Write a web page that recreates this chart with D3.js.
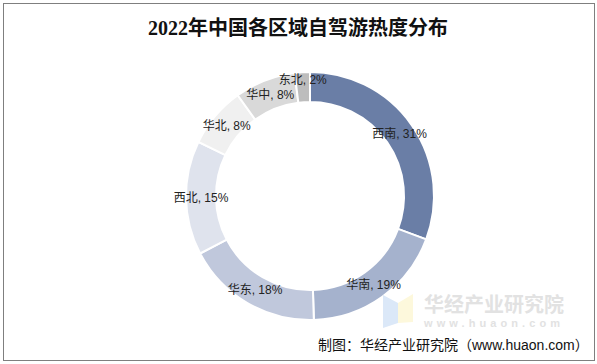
<!DOCTYPE html>
<html>
<head>
<meta charset="utf-8">
<script src="https://cdnjs.cloudflare.com/ajax/libs/d3/7.8.5/d3.min.js"></script>
<style>
html, body { margin: 0; padding: 0; background: #fff; }
svg { display: block; }
text { font-family: "Liberation Sans", "Noto Sans CJK SC", sans-serif; }
</style>
</head>
<body>
<svg id="chart"></svg>
<script>
const regions = ["西南", "华南", "华东", "西北", "华北", "华中", "东北"];
const shares = [31, 19, 18, 15, 8, 8, 2];
const colors = ["#6a7ea6", "#a5b2cd", "#c0c8dc", "#dfe3ed", "#f0f0f0", "#d9d9d9", "#bdbdbd"];

const width = 597;
const height = 364;
const cx = 310;
const cy = 196;

const svg = d3.select("svg#chart")
    .attr("width", width)
    .attr("height", height);

svg.append("rect")
    .attr("x", 3.5)
    .attr("y", 3.5)
    .attr("width", 591)
    .attr("height", 357)
    .style("fill", "#fff")
    .style("stroke", "#7f7f7f")
    .style("stroke-width", 1);

svg.append("text")
    .attr("x", 298)
    .attr("y", 35)
    .attr("text-anchor", "middle")
    .style("font-family", '"Liberation Serif", "Noto Sans CJK SC", serif')
    .style("font-size", "20px")
    .style("font-weight", "bold")
    .style("fill", "#111")
    .text("2022年中国各区域自驾游热度分布");

const pie = d3.pie().sort(null).value(d => d.value);
const arc = d3.arc().innerRadius(94).outerRadius(124);
const labelArc = d3.arc().innerRadius(109).outerRadius(109);
// the thin last slice has its label pushed outward so it clears its neighbour
const outerLabelArc = d3.arc().innerRadius(116).outerRadius(116);

const slices = pie(regions.map((name, i) => ({ name: name, value: shares[i] })));
const labelPos = d => (d.value < 5 ? outerLabelArc : labelArc).centroid(d);

const g = svg.append("g").attr("transform", `translate(${cx},${cy})`);

g.selectAll("path")
    .data(slices)
    .join("path")
    .attr("d", arc)
    .style("fill", (d, i) => colors[i])
    .style("stroke", "#fff")
    .style("stroke-width", 2);

g.selectAll("text")
    .data(slices)
    .join("text")
    .attr("x", d => labelPos(d)[0])
    .attr("y", d => labelPos(d)[1])
    .attr("dy", "0.35em")
    .attr("text-anchor", "middle")
    .style("font-size", "12px")
    .style("fill", "#222")
    .text(d => `${d.data.name}, ${d.data.value}%`);

// watermark
const mark = svg.append("g");
mark.append("path")
    .attr("d", d3.line()([[383, 295], [398, 303], [398, 323], [383, 328]]))
    .style("fill", "#dbe8f8");
mark.append("path")
    .attr("d", d3.line()([[398, 303], [413, 294], [413, 322], [398, 323]]))
    .style("fill", "#fdf8dc");
mark.append("text")
    .attr("x", 424)
    .attr("y", 312)
    .style("font-size", "20px")
    .style("font-weight", "bold")
    .style("fill", "#e2e2e2")
    .text("华经产业研究院");
mark.append("text")
    .attr("x", 424)
    .attr("y", 327)
    .attr("textLength", 136)
    .style("font-size", "11px")
    .style("font-weight", "bold")
    .style("fill", "#e2e2e2")
    .text("www.huaon.com");

svg.append("text")
    .attr("x", 318)
    .attr("y", 350)
    .style("font-size", "14px")
    .style("fill", "#111")
    .text("制图：华经产业研究院（www.huaon.com）");
</script>
</body>
</html>
